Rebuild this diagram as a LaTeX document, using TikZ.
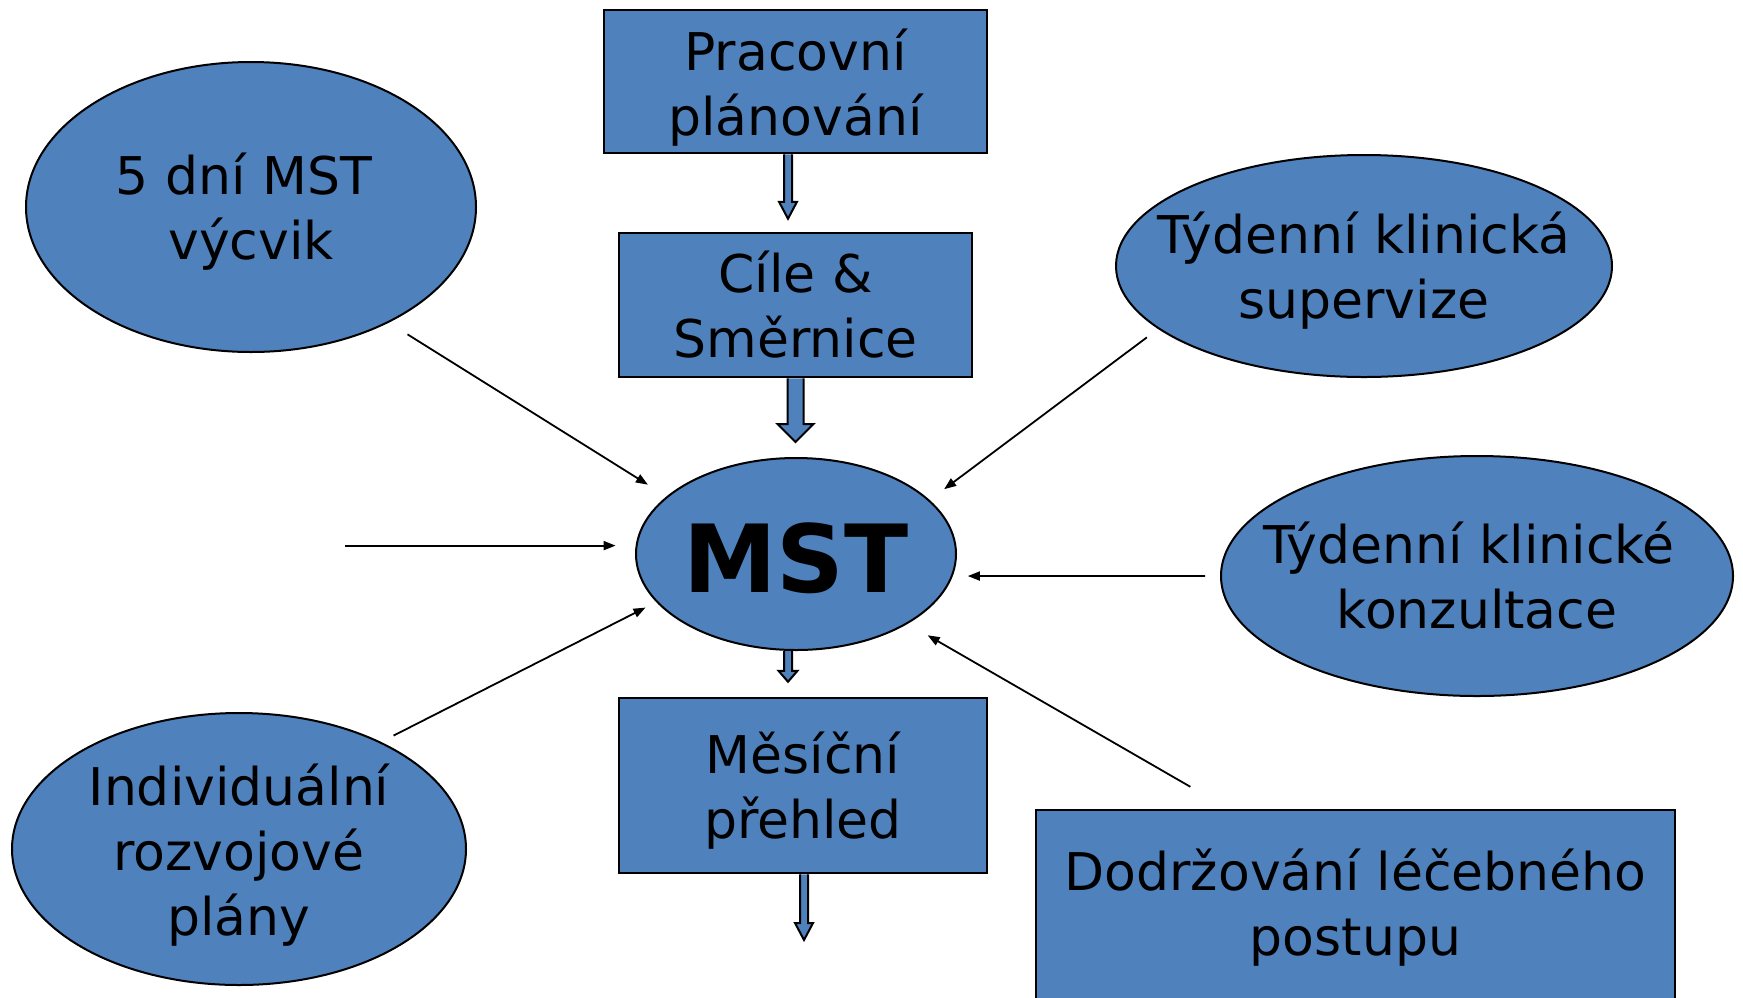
\documentclass[tikz,border=0pt]{standalone}
\usepackage{fontspec}
\setmainfont{DejaVu Sans}
\usepackage{tikz}
\usetikzlibrary{shapes.geometric,arrows.meta,calc}
\definecolor{BoxBlue}{RGB}{79,129,189}

% hollow block arrow: from, to, half shaft, half head, head length
\newcommand{\blockarrow}[5]{%
  \draw[fat arrow] let \p1=(#1), \p2=(#2) in
    (\x1-#3pt,\y1) -- (\x1-#3pt,\y2+#5pt) -- (\x1-#4pt,\y2+#5pt) -- (\x1,\y2)
    -- (\x1+#4pt,\y2+#5pt) -- (\x1+#3pt,\y2+#5pt) -- (\x1+#3pt,\y1);}

\begin{document}
\begin{tikzpicture}[x=1pt,y=-1pt,
    every node/.style={font=\fontsize{52}{65}\selectfont, align=center, inner sep=0pt},
    bubble/.style={ellipse, draw, fill=BoxBlue, line width=2pt},
    panel/.style={rectangle, draw, fill=BoxBlue, line width=2.5pt},
    thin arrow/.style={-{Triangle[length=12pt,width=9pt]}, line width=1.8pt},
    fat arrow/.style={draw=black, fill=BoxBlue, line width=2pt}]
  \useasboundingbox (0,0) rectangle (1743,997);

  \node[panel, minimum width=383pt, minimum height=143pt,
    label={[yshift=-6pt]center:{Pracovní\\plánování}}] (prac) at (795.5,81.5) {};
  \node[panel, minimum width=353pt, minimum height=144pt] (cile) at (795.5,305) {Cíle \&\\Směrnice};
  \node[bubble, minimum width=320pt, minimum height=192pt,
    label={[yshift=-4pt, font=\fontsize{94}{100}\selectfont\bfseries]center:MST}] (mst) at (796,554) {};
  \node[panel, minimum width=368pt, minimum height=175pt,
    label={[yshift=-5pt]center:{Měsíční\\přehled}}] (mes) at (803,785.5) {};
  \node[panel, minimum width=639pt, minimum height=196pt] (dodr) at (1355.5,908) {Dodržování léčebného\\postupu};

  \node[bubble, minimum width=450pt, minimum height=290pt,
    label={[yshift=-5pt]center:{5 dní MST\hspace*{14pt}\\výcvik}}] (five) at (251,207) {};
  \node[bubble, minimum width=496pt, minimum height=222pt,
    label={[yshift=-5pt]center:{Týdenní klinická\\supervize}}] (sup) at (1364,266) {};
  \node[bubble, minimum width=512pt, minimum height=240pt,
    label={center:{Týdenní klinické\hspace*{16pt}\\konzultace}}] (konz) at (1477,576) {};
  \node[bubble, minimum width=454pt, minimum height=272pt,
    label={[yshift=-6pt]center:{Individuální\\rozvojové\\plány}}] (indiv) at (239,849) {};

  \coordinate (lft) at (345,546);
  \coordinate (mesend) at (804,940);

  % block arrows down the middle
  \blockarrow{$(prac.south)+(-7.5,0)$}{$(cile.north)+(-7.5,-13)$}{4}{9}{17}
  \blockarrow{cile.south}{$(mst.north)+(0,-15)$}{8}{18}{18}
  \blockarrow{$(mst.south)+(-8,0)$}{$(mes.north)+(-8,-15)$}{4}{9.5}{11}
  \blockarrow{$(mes.south)+(1,0)$}{mesend}{4}{9}{17}

  % thin arrows into MST
  \draw[thin arrow, shorten <=22pt, shorten >=22pt] (five.-40.5) -- (mst.156.7);
  \draw[thin arrow, shorten >=20pt] (lft |- mst.177) -- (mst.177);
  \draw[thin arrow, shorten <=14pt, shorten >=12pt] (indiv.37.7) -- (mst.-161.1);
  \draw[thin arrow, shorten <=14pt, shorten >=18pt] (sup.-163.4) -- (mst.22.4);
  \draw[thin arrow, shorten <=15pt, shorten >=15pt] (konz.180) -- (mst.-8.4);
  \draw[thin arrow, shorten <=44pt, shorten >=23pt] (dodr.142.2) -- (mst.-32.9);
\end{tikzpicture}
\end{document}
